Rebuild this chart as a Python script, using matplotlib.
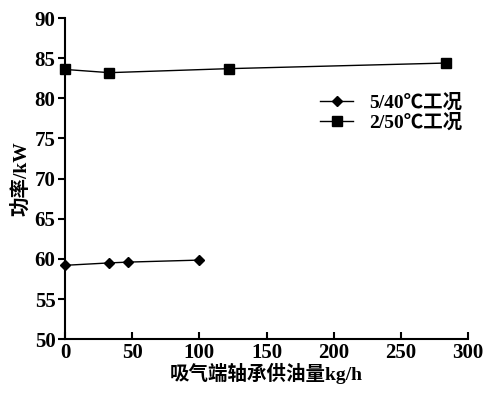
import numpy as np
import matplotlib.pyplot as plt

plt.rcParams['font.family'] = ['Liberation Serif', 'Noto Sans CJK SC']
plt.rcParams['font.weight'] = 'bold'
plt.rcParams['axes.labelweight'] = 'bold'

# 5/40℃ 工况
x_540 = [0, 33, 47, 100]
p_540 = [59.2, 59.5, 59.6, 59.85]
# 2/50℃ 工况
x_250 = [0, 33, 122, 284]
p_250 = [83.6, 83.2, 83.7, 84.4]

labels = ['5/40℃工况', '2/50℃工况']

fig = plt.figure(figsize=(5.01, 3.93), dpi=100)
ax = fig.add_axes([0.13, 0.137, 0.804, 0.817])

ax.plot(x_540, p_540, color='black', lw=1, marker='D', ms=5.5, label=labels[0], clip_on=False)
ax.plot(x_250, p_250, color='black', lw=1, marker='s', ms=7.5, label=labels[1], clip_on=False)

ax.set_xlim(0, 300)
ax.set_ylim(50, 90)
ax.set_xticks(np.arange(0, 301, 50))
ax.set_yticks(np.arange(50, 91, 5))

for s in ['top', 'right']:
    ax.spines[s].set_visible(False)
for s in ['left', 'bottom']:
    ax.spines[s].set_linewidth(1.5)

ax.tick_params(axis='x', direction='in', length=5, width=1.5, labelsize=15, pad=3)
ax.tick_params(axis='y', direction='out', length=5, width=1.5, labelsize=15, pad=2)

ax.set_xlabel('吸气端轴承供油量kg/h', fontsize=14, labelpad=0)
ax.set_ylabel('功率/kW', fontsize=14, labelpad=3)

ax.legend(loc='upper left', bbox_to_anchor=(0.59, 0.82), frameon=False, fontsize=14,
          handlelength=1.7, labelspacing=0.1, handletextpad=0.8)

fig.savefig('out.png', dpi=100)
